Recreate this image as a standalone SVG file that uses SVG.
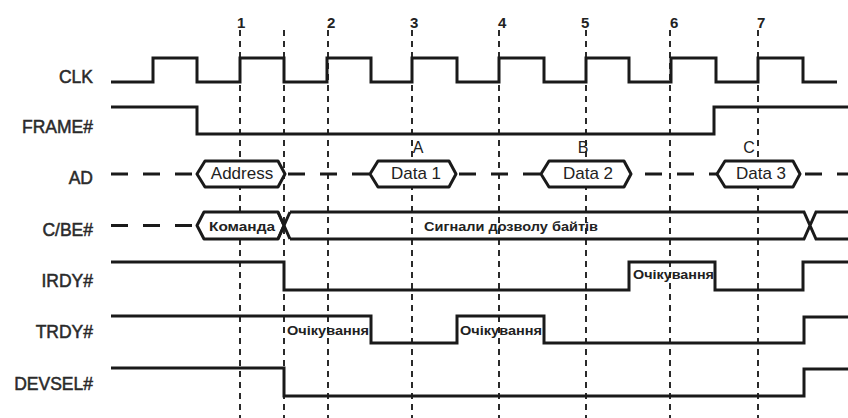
<svg xmlns="http://www.w3.org/2000/svg" width="848" height="418" viewBox="0 0 848 418">
<style>
.bg{fill:#ffffff}
.grid{stroke:#2a2a2a;stroke-width:2;stroke-dasharray:6 5;fill:none}
.sig{stroke:#1a1a1a;stroke-width:3;fill:none;stroke-linejoin:miter}
.bus{stroke:#1a1a1a;stroke-width:3;fill:#fff;stroke-linejoin:round}
.dash{stroke:#1a1a1a;stroke-width:3;stroke-dasharray:17 15;fill:none}
.lbl{font-family:"Liberation Sans",Arial,sans-serif;font-size:17.5px;fill:#2a2a2a;stroke:#2a2a2a;stroke-width:0.5;text-anchor:end}
.num{font-family:"Liberation Sans",Arial,sans-serif;font-size:15px;font-weight:bold;fill:#222}
.let{font-family:"Liberation Sans",Arial,sans-serif;font-size:16px;fill:#222;text-anchor:middle}
.dat{font-family:"Liberation Sans",Arial,sans-serif;font-size:17px;fill:#222;text-anchor:middle}
.cyr{font-family:"Liberation Sans","DejaVu Sans",sans-serif;font-size:12.5px;font-weight:bold;fill:#222}
</style>
<rect class="bg" x="0" y="0" width="848" height="418"/>

<g id="grid">
<line class="grid" x1="240" y1="30" x2="240" y2="418"/>
<line class="grid" x1="284" y1="30" x2="284" y2="418"/>
<line class="grid" x1="328" y1="30" x2="328" y2="418"/>
<line class="grid" x1="412" y1="30" x2="412" y2="418"/>
<line class="grid" x1="499" y1="30" x2="499" y2="418"/>
<line class="grid" x1="586" y1="30" x2="586" y2="418"/>
<line class="grid" x1="670" y1="30" x2="670" y2="418"/>
<line class="grid" x1="758" y1="30" x2="758" y2="418"/>
<text class="num" x="237" y="28">1</text>
<text class="num" x="327" y="28">2</text>
<text class="num" x="410" y="28">3</text>
<text class="num" x="498" y="28">4</text>
<text class="num" x="581" y="28">5</text>
<text class="num" x="670" y="28">6</text>
<text class="num" x="757" y="28">7</text>
</g>

<g id="labels">
<text class="lbl" x="93" y="83">CLK</text>
<text class="lbl" x="93" y="133">FRAME#</text>
<text class="lbl" x="93" y="184">AD</text>
<text class="lbl" x="93" y="236">C/BE#</text>
<text class="lbl" x="93" y="287">IRDY#</text>
<text class="lbl" x="93" y="338">TRDY#</text>
<text class="lbl" x="93" y="390">DEVSEL#</text>
</g>

<g id="clk">
<path class="sig" d="M111,82 H153 V58 H197 V82 H240 V58 H284 V82 H327 V58 H371 V82 H412 V58 H457 V82 H499 V58 H544 V82 H586 V58 H629 V82 H671 V58 H716 V82 H758 V58 H803 V82 H837"/>
</g>

<g id="frame">
<path class="sig" d="M111,107 H197 V134 H714 V107 H848"/>
</g>

<g id="ad">
<line class="dash" x1="111" y1="174" x2="197" y2="174"/>
<line class="dash" x1="288" y1="174" x2="370" y2="174"/>
<line class="dash" x1="459" y1="174" x2="541" y2="174"/>
<line class="dash" x1="645" y1="174" x2="717" y2="174"/>
<line class="dash" x1="805" y1="174" x2="848" y2="174"/>
<path class="bus" d="M197,174 L205,161 H278 L285,174 L278,187 H205 Z"/>
<path class="bus" d="M370,174 L378,161 H449 L456,174 L449,187 H378 Z"/>
<path class="bus" d="M541,174 L549,161 H624 L631,174 L624,187 H549 Z"/>
<path class="bus" d="M717,174 L725,161 H793 L800,174 L793,187 H725 Z"/>
<text class="dat" x="242" y="179">Address</text>
<text class="dat" x="416" y="179">Data 1</text>
<text class="dat" x="588" y="179">Data 2</text>
<text class="dat" x="761" y="179">Data 3</text>
<text class="let" x="418" y="153">A</text>
<text class="let" x="583" y="153">B</text>
<text class="let" x="749" y="153">C</text>
</g>

<g id="cbe">
<line class="dash" x1="111" y1="225.5" x2="197" y2="225.5"/>
<path class="bus" d="M284,225.5 L278,239 H204 L197,225.5 L204,212 H278 Z"/>
<path class="sig" stroke-linejoin="round" d="M290,212 L278,239 M278,212 L290,239"/>
<path class="sig" d="M290,212 H804 L816,239 H848 M290,239 H804 L816,212 H848"/>
<text class="cyr" x="242" y="231" text-anchor="middle" textLength="66" lengthAdjust="spacingAndGlyphs">Команда</text>
<text class="cyr" x="511" y="231" text-anchor="middle" textLength="174" lengthAdjust="spacingAndGlyphs">Сигнали дозволу байтів</text>
</g>

<g id="irdy">
<path class="sig" d="M111,262 H284 V290 H629 V262 H715 V290 H803 V262 H848"/>
<text class="cyr" x="633" y="279" textLength="81" lengthAdjust="spacingAndGlyphs">Очікування</text>
</g>

<g id="trdy">
<path class="sig" d="M111,316 H371 V343 H457 V316 H544 V343 H804 V317 H848"/>
<text class="cyr" x="287" y="335" textLength="82" lengthAdjust="spacingAndGlyphs">Очікування</text>
<text class="cyr" x="460" y="335" textLength="82" lengthAdjust="spacingAndGlyphs">Очікування</text>
</g>

<g id="devsel">
<path class="sig" d="M111,368 H284 V396 H804 V369 H848"/>
</g>
</svg>
